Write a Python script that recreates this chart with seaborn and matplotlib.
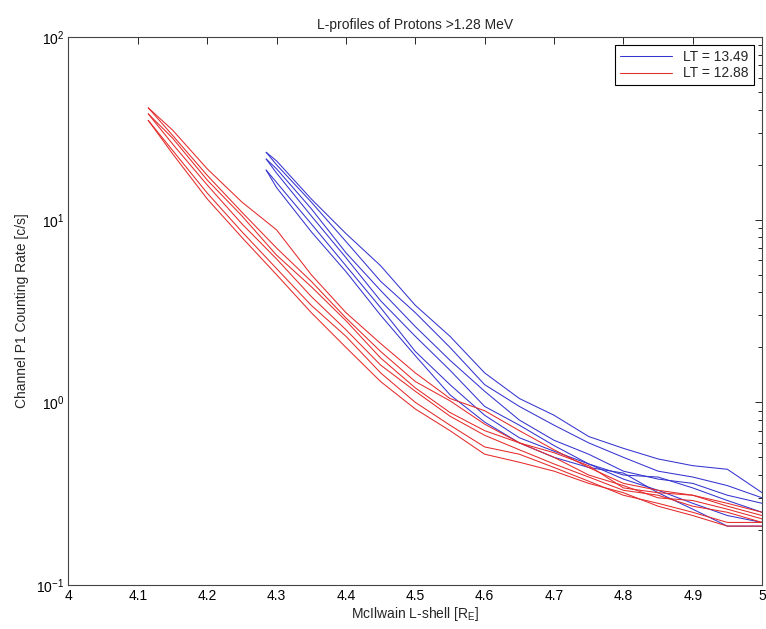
import numpy as np
import pandas as pd
import matplotlib
matplotlib.use("Agg")
import matplotlib.pyplot as plt
import seaborn as sns
from matplotlib.lines import Line2D

# ---- data ----
red_L = [4.115, 4.15, 4.2, 4.25, 4.3, 4.35, 4.4, 4.45, 4.5, 4.55, 4.6, 4.65, 4.7, 4.75, 4.8, 4.85, 4.9, 4.95, 5.0]
red_r1 = [41, 31, 19, 12.5, 8.8, 5.0, 3.1, 2.1, 1.45, 1.05, 0.90, 0.70, 0.55, 0.44, 0.36, 0.33, 0.31, 0.28, 0.25]
red_r2 = [41, 29, 17.5, 11, 7.0, 4.6, 2.9, 1.9, 1.3, 1.02, 0.76, 0.60, 0.53, 0.45, 0.34, 0.32, 0.31, 0.27, 0.24]
red_r3 = [38, 28, 16.5, 10.5, 6.4, 4.3, 2.8, 1.75, 1.2, 0.88, 0.70, 0.60, 0.50, 0.40, 0.35, 0.30, 0.29, 0.26, 0.23]
red_r4 = [38, 26, 15.5, 9.5, 6.1, 3.8, 2.5, 1.6, 1.15, 0.84, 0.66, 0.55, 0.46, 0.39, 0.33, 0.31, 0.27, 0.25, 0.22]
red_r5 = [35, 24, 14, 8.6, 5.4, 3.4, 2.3, 1.45, 1.0, 0.75, 0.57, 0.52, 0.44, 0.37, 0.31, 0.28, 0.25, 0.22, 0.22]
red_r6 = [35, 23, 13, 8.0, 5.0, 3.1, 2.0, 1.3, 0.92, 0.70, 0.52, 0.47, 0.42, 0.36, 0.32, 0.27, 0.24, 0.21, 0.21]

blue_L = [4.285, 4.3, 4.35, 4.4, 4.45, 4.5, 4.55, 4.6, 4.65, 4.7, 4.75, 4.8, 4.85, 4.9, 4.95, 5.0]
blue_b1 = [23.4, 21, 13.0, 8.4, 5.6, 3.4, 2.3, 1.45, 1.05, 0.85, 0.65, 0.56, 0.49, 0.45, 0.43, 0.32]
blue_b2 = [23.4, 20, 12.5, 7.6, 4.6, 3.1, 2.0, 1.25, 0.95, 0.75, 0.60, 0.50, 0.42, 0.39, 0.35, 0.30]
blue_b3 = [21.5, 19, 11.5, 6.6, 4.1, 2.6, 1.7, 1.15, 0.80, 0.62, 0.52, 0.42, 0.38, 0.36, 0.31, 0.28]
blue_b4 = [21.5, 18, 10.5, 6.2, 3.6, 2.3, 1.5, 0.95, 0.75, 0.58, 0.46, 0.40, 0.39, 0.34, 0.29, 0.25]
blue_b5 = [18.7, 16, 9.5, 5.6, 3.3, 1.9, 1.25, 0.85, 0.64, 0.54, 0.46, 0.38, 0.33, 0.28, 0.24, 0.22]
blue_b6 = [18.7, 15, 8.6, 5.2, 3.0, 1.8, 1.1, 0.78, 0.60, 0.50, 0.44, 0.41, 0.32, 0.26, 0.21, 0.21]

labels = ["LT = 13.49", "LT = 12.88"]
title = "L-profiles of Protons >1.28 MeV"
xtick_labels = ["4", "4.1", "4.2", "4.3", "4.4", "4.5", "4.6", "4.7", "4.8", "4.9", "5"]

# ---- build table ----
rows = []
def add(L, vals, lab, uid):
    for i, (x, y) in enumerate(zip(L, vals)):
        rows.append(dict(L=x, rate=y, LT=lab, unit=uid, order=i))

for k, v in enumerate([blue_b1, blue_b2, blue_b3, blue_b4, blue_b5, blue_b6]):
    add(blue_L, v, labels[0], f"b{k}")
for k, v in enumerate([red_r1, red_r2, red_r3, red_r4, red_r5, red_r6]):
    add(red_L, v, labels[1], f"r{k}")
df = pd.DataFrame(rows)

sns.set_style("white")
plt.rcParams["font.family"] = ["Liberation Sans", "DejaVu Sans"]
plt.rcParams["mathtext.fontset"] = "custom"
plt.rcParams["mathtext.rm"] = "Liberation Sans"
plt.rcParams["mathtext.it"] = "Liberation Sans"
plt.rcParams["mathtext.bf"] = "Liberation Sans"
plt.rcParams["axes.unicode_minus"] = False

BLUE = "#3434d0"
RED = "#e52a2a"
FS = 10

fig = plt.figure(figsize=(7.66, 6.29), dpi=100)
ax = fig.add_axes([0.0894, 0.070, 0.9055, 0.871])

sns.lineplot(data=df, x="L", y="rate", hue="LT", units="unit", estimator=None,
             sort=False, palette={labels[0]: BLUE, labels[1]: RED},
             linewidth=0.75, ax=ax, legend=False)

ax.set_yscale("log")
ax.set_xlim(4, 5)
ax.set_ylim(0.1, 100)
ax.set_xticks(np.arange(4, 5.01, 0.1))
ax.set_xticklabels(xtick_labels)

ax.tick_params(axis="both", which="both", direction="in", top=True, right=True,
               labelsize=FS, colors="black")
ax.tick_params(axis="both", which="major", length=5, width=0.6, pad=3)
ax.tick_params(axis="y", which="minor", length=3, width=0.6)
for s in ax.spines.values():
    s.set_color("#444444")
    s.set_linewidth(0.8)
    s.set_visible(True)

ax.set_title(title, fontsize=FS, pad=6)
ax.set_xlabel("McIlwain L-shell [R$_E$]", fontsize=FS, labelpad=1)
ax.set_ylabel("Channel P1 Counting Rate [c/s]", fontsize=FS, labelpad=5)

handles = [Line2D([], [], color=BLUE, lw=0.75), Line2D([], [], color=RED, lw=0.75)]
leg = ax.legend(handles, labels, loc="upper right", fontsize=FS, frameon=True,
                fancybox=False, edgecolor="black", framealpha=1,
                borderaxespad=0.6, handlelength=3.8, handletextpad=0.8,
                borderpad=0.35, labelspacing=0.15)
leg.get_frame().set_linewidth(0.8)

fig.savefig("out.png", dpi=100)
